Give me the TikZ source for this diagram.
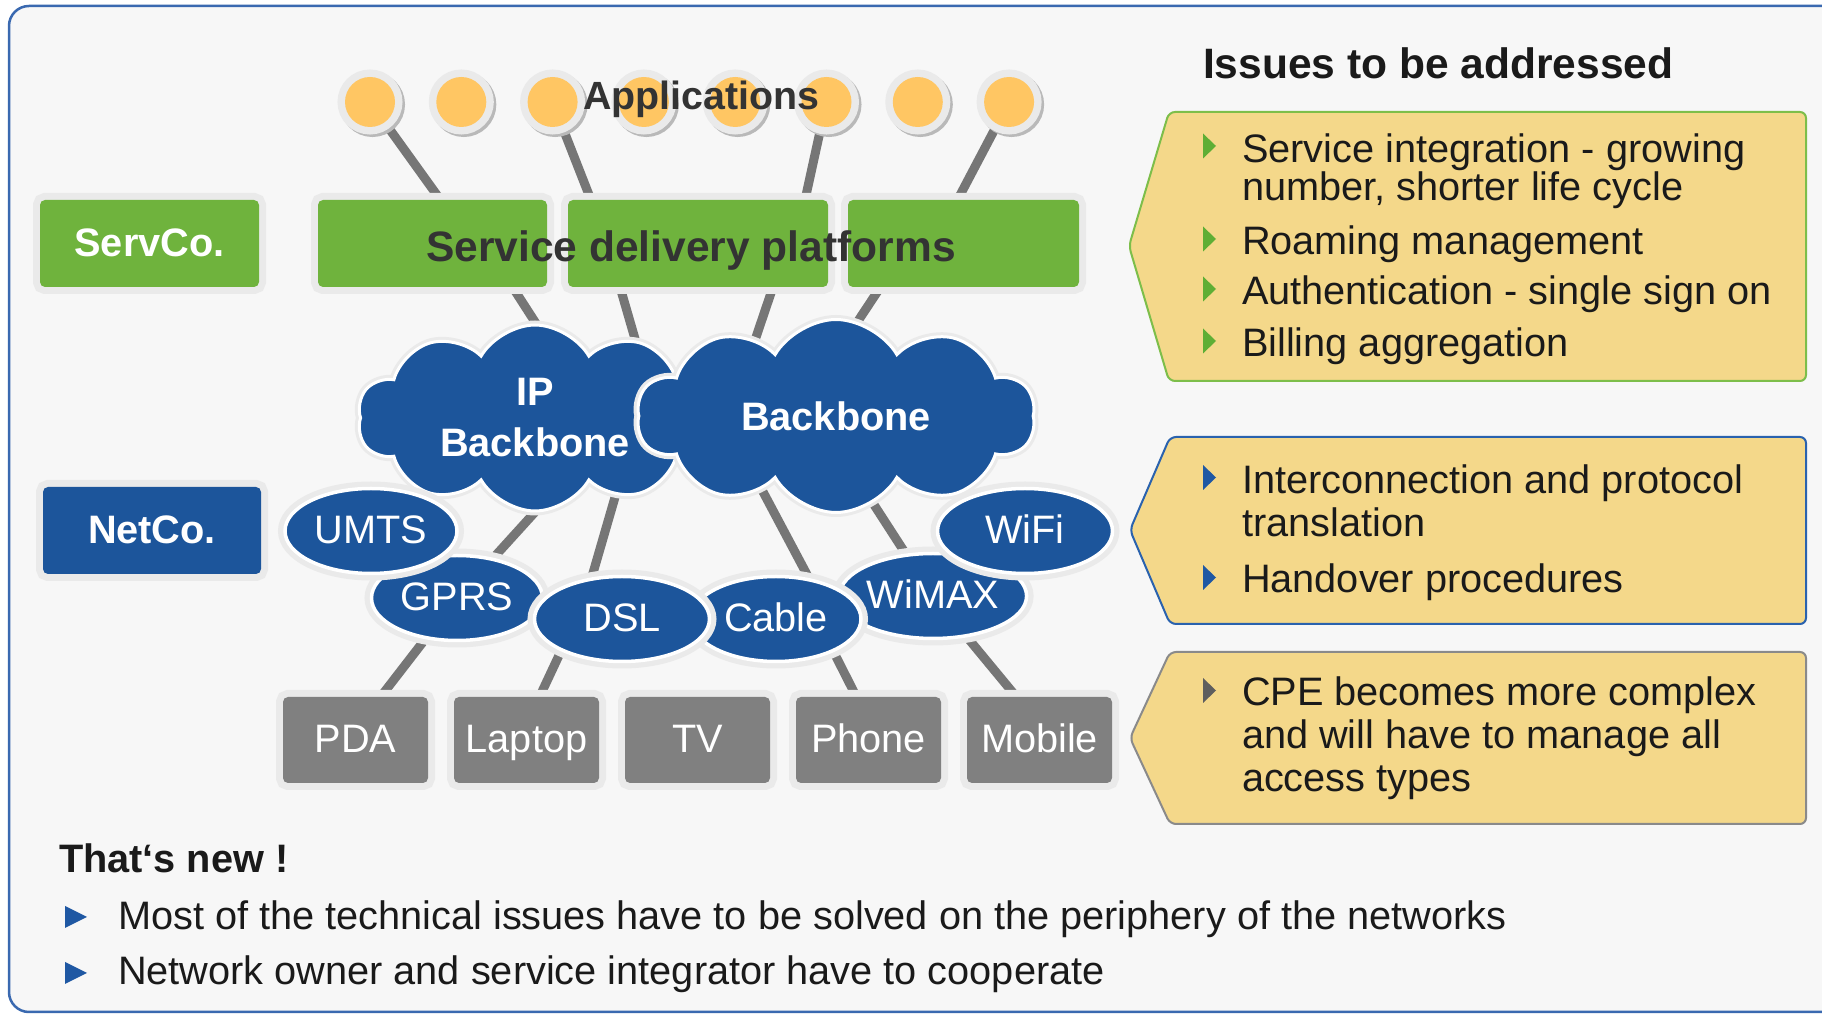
\documentclass[tikz,border=0pt]{standalone}
\usepackage{fontspec}
\setmainfont{Liberation Sans}
\usetikzlibrary{positioning,shapes.geometric,shapes.symbols}

\pgfdeclarelayer{back}
\pgfdeclarelayer{bg}
\pgfsetlayers{back,bg,main}

\definecolor{paper}{HTML}{F7F7F7}
\definecolor{framecol}{HTML}{3A69B0}
\definecolor{halocol}{HTML}{EAEAEA}
\definecolor{appyellow}{HTML}{FFC663}
\definecolor{servgreen}{HTML}{6FB33D}
\definecolor{netblue}{HTML}{1C559B}
\definecolor{devgray}{HTML}{808080}
\definecolor{stickgray}{HTML}{767676}
\definecolor{panelfill}{HTML}{F4D88A}
\definecolor{panelgreen}{HTML}{7DBE4A}
\definecolor{panelblue}{HTML}{2A62AE}
\definecolor{panelgray}{HTML}{8A8A8A}
\definecolor{bulgreen}{HTML}{5FAE35}
\definecolor{bulblue}{HTML}{1F58A3}
\definecolor{bulgray}{HTML}{5E5E5E}
\definecolor{ink}{HTML}{1A1A1A}
\definecolor{darkink}{HTML}{333333}

\tikzset{
    glow/.style={preaction={draw=halocol, line width=1.4mm}},
    appdot/.style={circle, fill=appyellow, minimum size=5mm, inner sep=0, outer sep=0,
        preaction={draw=gray!55, line width=1.5mm, transform canvas={shift={(0.25mm,-0.25mm)}}},
        preaction={draw=halocol, line width=1.5mm}},
    servbox/.style={rectangle, rounded corners=0.5mm, fill=servgreen, minimum height=8.7mm,
        inner sep=0, outer sep=0, glow, text=white, text height=2.9mm, text depth=0.3mm,
        font=\bfseries\fontsize{11.3}{13}\selectfont},
    netbox/.style={servbox, fill=netblue, minimum width=21.8mm},
    devbox/.style={servbox, fill=devgray, minimum width=14.5mm, minimum height=8.6mm,
        font=\fontsize{11.3}{13}\selectfont},
    access/.style={ellipse, fill=netblue, draw=white, line width=0.35mm, minimum height=8.5mm,
        inner sep=0, outer sep=0, glow, text=white, text height=2.9mm, text depth=0.3mm,
        font=\fontsize{11.3}{13}\selectfont},
    backbone/.style={cloud, cloud puffs=10, cloud puff arc=120, cloud ignores aspect,
        fill=netblue, draw=white, line width=0.3mm, inner sep=0, outer sep=0, align=center,
        text=white, font=\bfseries\fontsize{11.3}{14.5}\selectfont,
        preaction={draw=halocol, line width=0.9mm}},
    stick/.style={draw=stickgray, line width=0.9mm},
    panel/.style={fill=panelfill, line width=0.2mm, rounded corners=0.6mm},
    item/.style={anchor=base west, align=left, inner sep=0, outer sep=0, text=ink,
        font=\fontsize{11.3}{11}\selectfont},
    title/.style={anchor=base west, inner sep=0, outer sep=0, text=ink},
}

\begin{document}
\begin{tikzpicture}[x=0.1mm, y=-0.1mm]
    \useasboundingbox (0,0) rectangle (1822,1016);
    \begin{pgfonlayer}{back}
        \fill[white] (0,0) rectangle (1822,1016);
        \draw[framecol, line width=0.25mm, fill=paper, rounded corners=2mm] (9,6) rectangle (1900,1012);
    \end{pgfonlayer}

    % applications
    \node[appdot] (app1) at (370,102) {};
    \node[appdot, right=4.13mm of app1] (app2) {};
    \node[appdot, right=4.13mm of app2] (app3) {};
    \node[appdot, right=4.13mm of app3] (app4) {};
    \node[appdot, right=4.13mm of app4] (app5) {};
    \node[appdot, right=4.13mm of app5] (app6) {};
    \node[appdot, right=4.13mm of app6] (app7) {};
    \node[appdot, right=4.13mm of app7] (app8) {};
    \node[anchor=base, inner sep=0, text=darkink, font=\bfseries\fontsize{11.2}{13}\selectfont] (applabel) at (701.5,110) {Applications};

    % service layer
    \node[servbox, minimum width=21.9mm] (servco) at (149.5,243.5) {ServCo.};
    \node[servbox, minimum width=22.9mm] (sdp1) at (432.5,243.5) {};
    \node[servbox, minimum width=26mm, right=2.1mm of sdp1] (sdp2) {};
    \node[servbox, minimum width=23.1mm, right=2mm of sdp2] (sdp3) {};
    \node[anchor=base, inner sep=0, text=darkink, font=\bfseries\fontsize{12.1}{14}\selectfont] (sdplabel) at (691,262) {Service delivery platforms};

    % backbones
    \node[backbone, minimum width=35.5mm, minimum height=18.6mm] (ipbb) at (535,418) {IP\\Backbone};
    \node[backbone, minimum width=39.8mm, minimum height=19.3mm] (bb) at (836,416) {Backbone};

    % access networks
    \node[netbox] (netco) at (152,530.5) {NetCo.};
    \node[access, minimum width=17.1mm] (gprs) at (457,598) {GPRS};
    \node[access, minimum width=17.2mm] (umts) at (371,531) {UMTS};
    \node[access, minimum width=17mm] (wimax) at (933,596) {WiMAX};
    \node[access, minimum width=17mm] (cable) at (776,619) {Cable};
    \node[access, minimum width=17.5mm] (dsl) at (622,619) {DSL};
    \node[access, minimum width=17.5mm] (wifi) at (1025,531) {WiFi};

    % devices
    \node[devbox] (pda) at (355.5,740) {PDA};
    \node[devbox, right=2.6mm of pda] (laptop) {Laptop};
    \node[devbox, right=2.6mm of laptop] (tv) {TV};
    \node[devbox, right=2.6mm of tv] (phone) {Phone};
    \node[devbox, right=2.6mm of phone] (mobile) {Mobile};

    \begin{pgfonlayer}{bg}
        % applications - platforms
        \draw[stick] (app1) -- ([xshift=0.8mm]sdp1.north);
        \draw[stick] (app3) -- ([xshift=2.3mm]sdp2.north west);
        \draw[stick] (app6) -- ([xshift=-2.3mm]sdp2.north east);
        \draw[stick] (app8) -- ([xshift=-0.6mm]sdp3.north);
        % platforms - backbones
        \draw[stick, shorten >=-3mm] ([xshift=8mm]sdp1.south) -- ([xshift=0.2mm]ipbb.north);
        \draw[stick, shorten >=-3mm] ([xshift=-7.8mm]sdp2.south) -- ([xshift=9.6mm]ipbb.north);
        \draw[stick, shorten >=-3mm] ([xshift=7.5mm]sdp2.south) -- ([xshift=-7.4mm]bb.north);
        \draw[stick, shorten >=-3mm] ([xshift=-8.3mm]sdp3.south) -- ([xshift=2.3mm]bb.north);
        % backbones - access
        \draw[stick, shorten <=-3mm] ([xshift=0.1mm]ipbb.south) -- (gprs);
        \draw[stick, shorten <=-3mm] ([xshift=7.6mm]ipbb.south) -- ([xshift=-3mm]dsl.north);
        \draw[stick, shorten <=-3mm] ([xshift=-6.2mm]bb.south) -- ([xshift=3.2mm]cable.north);
        \draw[stick, shorten <=-3mm] ([xshift=4.3mm]bb.south) -- (wimax);
        % access - devices
        \draw[stick] (gprs) -- ([xshift=2.5mm]pda.north);
        \draw[stick] (dsl.207) -- ([xshift=1.3mm]laptop.north);
        \draw[stick] (cable.331) -- ([xshift=-1.2mm]phone.north);
        \draw[stick] (wimax) -- ([xshift=-2.3mm]mobile.north);
    \end{pgfonlayer}

    % issues
    \node[title, font=\bfseries\fontsize{12.1}{14}\selectfont] (issues) at (1203,79) {Issues to be addressed};
    \draw[panel, draw=panelgreen] (1129,246) -- (1169,112) -- (1806,112) -- (1806,381) -- (1169,381) -- cycle;
    \node[item] (it1) at (1242,200.7) {Service integration - growing\\number, shorter life cycle};
    \node[item] (it2) at (1242,255) {Roaming management};
    \node[item] (it3) at (1242,305) {Authentication - single sign on};
    \node[item] (it4) at (1242,357) {Billing aggregation};
    % bullets
    \fill[bulgreen] (1203,133.5) -- (1216,146) -- (1203,158.5) -- cycle;
    \fill[bulgreen] (1203,226.5) -- (1216,239) -- (1203,251.5) -- cycle;
    \fill[bulgreen] (1203,276.5) -- (1216,289) -- (1203,301.5) -- cycle;
    \fill[bulgreen] (1203,328.5) -- (1216,341) -- (1203,353.5) -- cycle;

    \draw[panel, draw=panelblue] (1130,530) -- (1170,437) -- (1806,437) -- (1806,624) -- (1170,624) -- cycle;
    \node[item, font=\fontsize{11.3}{12.5}\selectfont] (it5) at (1242,537) {Interconnection and protocol\\translation};
    \node[item] (it6) at (1242,593) {Handover procedures};
    \fill[bulblue] (1203,465) -- (1216,477.5) -- (1203,490) -- cycle;
    \fill[bulblue] (1203,565) -- (1216,577.5) -- (1203,590) -- cycle;

    \draw[panel, draw=panelgray] (1130,738) -- (1170,652) -- (1806,652) -- (1806,824) -- (1170,824) -- cycle;
    \node[item, font=\fontsize{11.3}{12.3}\selectfont] (it7) at (1242,792) {CPE becomes more complex\\and will have to manage all\\access types};
    \fill[bulgray] (1203,678) -- (1216,690.5) -- (1203,703) -- cycle;

    % that's new
    \node[title, font=\bfseries\fontsize{11.3}{13}\selectfont] (news) at (59,873) {That‘s new !};
    \node[item] (new1) at (118,930) {Most of the technical issues have to be solved on the periphery of the networks};
    \node[item] (new2) at (118,985) {Network owner and service integrator have to cooperate};
    \fill[bulblue] (65,906) -- (87,917) -- (65,928) -- cycle;
    \fill[bulblue] (65,962) -- (87,973) -- (65,984) -- cycle;
\end{tikzpicture}
\end{document}
